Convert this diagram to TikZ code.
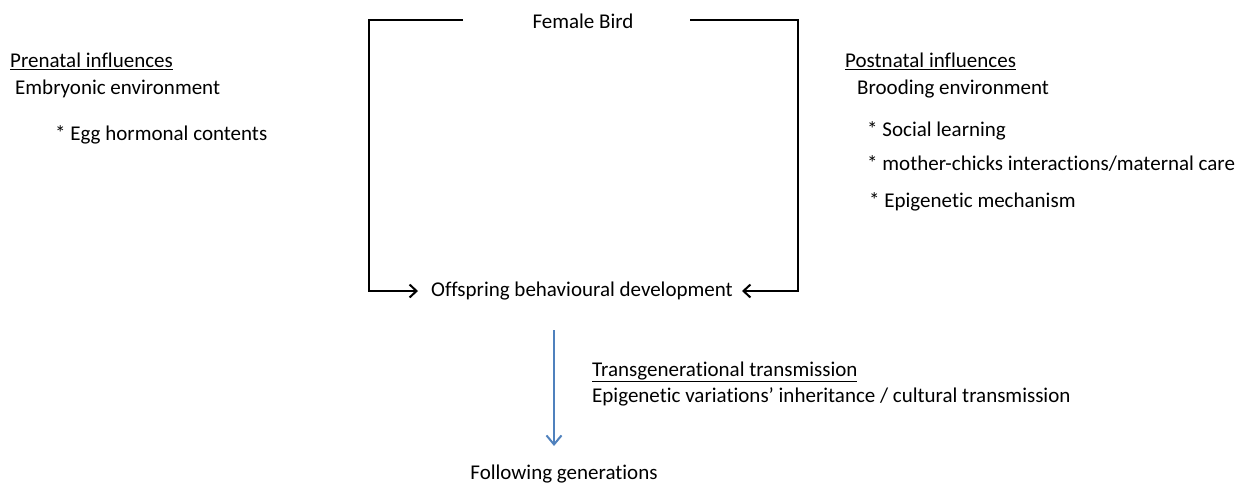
\documentclass[tikz,border=0pt]{standalone}
\usepackage{fontspec}
\setmainfont{Carlito}[Ligatures={NoCommon,NoContextual}]
\usetikzlibrary{arrows.meta,positioning}

\begin{document}
\begin{tikzpicture}[x=1pt, y=-1pt, >={Straight Barb[length=7pt,width=13pt]},
    every node/.style={font=\fontsize{21}{25}\selectfont, inner sep=0pt},
    txt/.style={anchor=base west},
    frame/.style={line width=2pt},
    gen/.style={line width=2pt, draw={rgb,255:red,79;green,129;blue,189},
      -{Straight Barb[length=9pt,width=15pt]}}]

  \useasboundingbox (0,0) rectangle (1255,484);

  % centre column
  \node (bird) at (583,21) {Female Bird};
  \node (off)  at (582,291) {Offspring behavioural development};
  \node (foll) at (564,474) {Following generations};

  % left block
  \node[txt] (pre)  at (10,68)  {\underline{Prenatal influences}};
  \node[txt] (emb)  at (15,95)  {Embryonic environment};
  \node[txt] (egg)  at (55,141) {* Egg hormonal contents};

  % right block
  \node[txt] (post) at (845,68)  {\underline{Postnatal influences}};
  \node[txt] (brd)  at (857,95)  {Brooding environment};
  \node[txt] (soc)  at (867,137) {* Social learning};
  \node[txt] (care) at (867,170) {* mother-chicks interactions/maternal care};
  \node[txt] (epi)  at (869,207) {* Epigenetic mechanism};

  % transmission
  \node[txt] (trg)  at (592,376) {\underline{Transgenerational transmission}};
  \node[txt] (inh)  at (592,402) {Epigenetic variations’ inheritance / cultural transmission};

  \coordinate (bl) at (463,20);
  \coordinate (br) at (690,20);
  \coordinate (gt) at (554,330);
  \coordinate (gb) at (554,446);

  \draw[frame,->] (bl) -- (369,20) |- ([xshift=-13pt]off.west);
  \draw[frame,->] (br) -- (798,20) |- ([xshift=9pt]off.east);
  \draw[gen] (gt) -- (gb);

\end{tikzpicture}
\end{document}
